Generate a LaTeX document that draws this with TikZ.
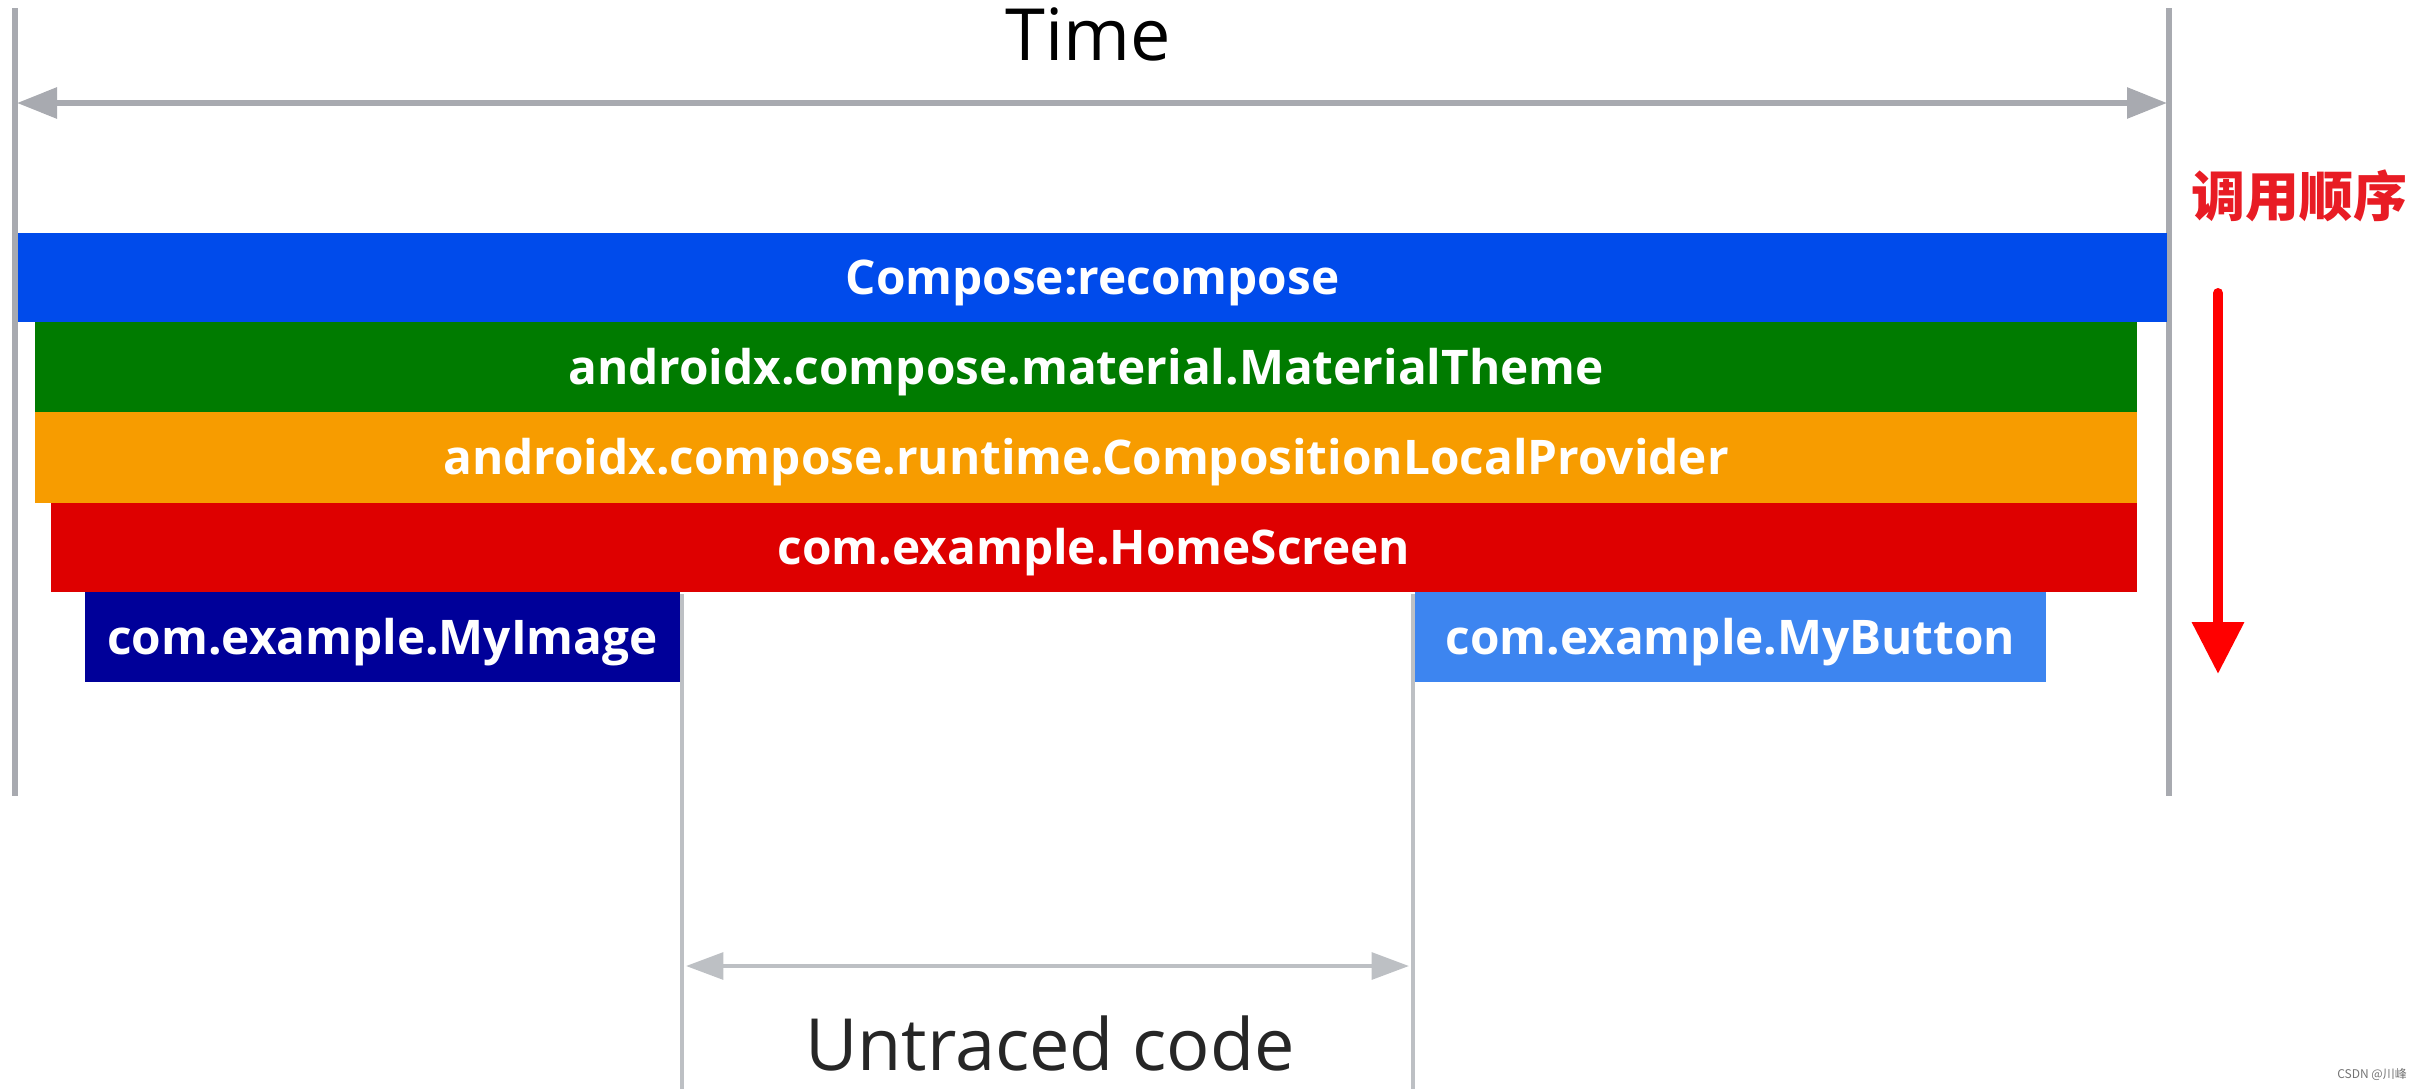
\documentclass[tikz,border=0pt]{standalone}
\usepackage{fontspec}
\setmainfont{Open Sans}
\newfontfamily\cjkfont{Noto Sans CJK SC}
\usetikzlibrary{arrows.meta}

\definecolor{composeblue}{RGB}{0,75,235}
\definecolor{themegreen}{RGB}{0,123,0}
\definecolor{providerorange}{RGB}{247,156,0}
\definecolor{homered}{RGB}{222,0,0}
\definecolor{imagenavy}{RGB}{0,0,153}
\definecolor{buttonblue}{RGB}{61,133,240}
\definecolor{axisgray}{RGB}{168,170,176}
\definecolor{untracedgray}{RGB}{189,192,196}
\definecolor{orderred}{RGB}{255,0,0}
\definecolor{labelred}{RGB}{232,28,36}

\tikzset{
  bartext/.style={text=white, inner sep=0pt, text height=25.5pt, text depth=0pt,
    font=\fontsize{35.8}{38}\selectfont\bfseries},
  axisline/.style={draw=axisgray, line width=4.5pt},
  gapline/.style={draw=untracedgray, line width=3pt},
}

\begin{document}
\begin{tikzpicture}[x=0.75pt,y=0.75pt,yscale=-1,xscale=1]
    \useasboundingbox (0,0) rectangle (2419,1089);

    %Time axis
    \coordinate (tl) at (15,8);
    \coordinate (tr) at (2169,8);
    \coordinate (bl) at (15,796);
    \coordinate (br) at (2169,796);
    \draw [axisline] (tl) -- (bl);
    \draw [axisline] (tr) -- (br);
    \coordinate (al) at (17,103);
    \coordinate (ar) at (2167,103);
    \draw [axisline, {Triangle[length=30pt,width=22.5pt]}-{Triangle[length=30pt,width=22.5pt]}] (al) -- (ar);
    \node [inner sep=0pt, font=\fontsize{54}{60}\selectfont] (time) at (1088,34) {Time};

    %Call bars
    \path [fill=composeblue] (18,233) rectangle node [bartext] (recompose) {Compose:recompose} (2167,322);
    \path [fill=themegreen] (35,322) rectangle node [bartext] (theme) {androidx.compose.material.MaterialTheme} (2137,412);
    \path [fill=providerorange] (35,412) rectangle node [bartext] (provider) {androidx.compose.runtime.CompositionLocalProvider} (2137,503);
    \path [fill=homered] (51,503) rectangle node [bartext] (home) {com.example.HomeScreen} (2137,592);
    \path [fill=imagenavy] (85,592) rectangle node [bartext] (myimage) {com.example.MyImage} (680,682);
    \path [fill=buttonblue] (1415,592) rectangle node [bartext] (mybutton) {com.example.MyButton} (2046,682);

    %Untraced gap
    \coordinate (gl) at (682,594);
    \coordinate (gr) at (1413,594);
    \coordinate (gl2) at (682,1089);
    \coordinate (gr2) at (1413,1089);
    \draw [gapline] (gl) -- (gl2);
    \draw [gapline] (gr) -- (gr2);
    \coordinate (ul) at (686,966);
    \coordinate (ur) at (1409,966);
    \draw [gapline, {Triangle[length=28pt,width=20pt]}-{Triangle[length=28pt,width=20pt]}] (ul) -- (ur);
    \node [inner sep=0pt, text=black!85, font=\fontsize{54}{60}\selectfont] (untraced) at (1050,1043) {Untraced code};

    %Call order
    \node [inner sep=0pt, text=labelred, font=\cjkfont\fontsize{40.5}{42}\selectfont\bfseries] (order) at (2299,196) {调用顺序};
    \coordinate (os) at (2218,293);
    \coordinate (oe) at (2218,674);
    \draw [orderred, line width=7.5pt, line cap=round, -{Triangle[length=39pt,width=37.5pt]}] (os) -- (oe);

    % watermark
    \node [inner sep=0pt, text=black!55, font=\cjkfont\fontsize{9}{10}\selectfont] (mark) at (2372,1074) {CSDN @川峰};
\end{tikzpicture}
\end{document}
